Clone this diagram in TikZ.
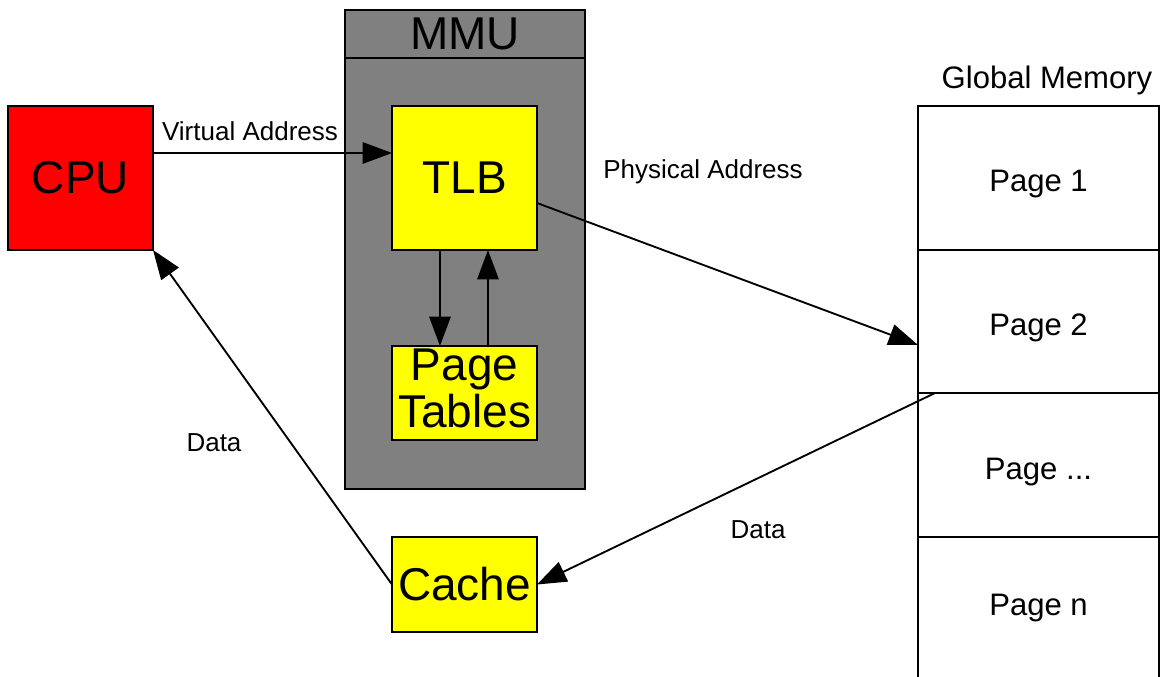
\documentclass[tikz,border=0pt]{standalone}
\usepackage{fontspec}
\setmainfont{Liberation Sans}
\usetikzlibrary{arrows.meta}

\definecolor{cpured}{HTML}{FF0000}
\definecolor{boxyellow}{HTML}{FFFF00}
\definecolor{mmugray}{HTML}{808080}

\tikzset{
  box/.style={draw=black, line width=1.1pt, inner sep=0pt, outer sep=0pt,
              minimum width=#1},
  bigtext/.style={font=\fontsize{34.5}{35.25}\selectfont},
  midtext/.style={font=\fontsize{23.3}{28}\selectfont,
                  text height=25.9pt, text depth=4.9pt},
  smalltext/.style={font=\fontsize{19.5}{23}\selectfont},
  cell/.style={draw=black, line width=1.1pt, inner sep=0pt, outer sep=0pt,
               minimum width=180.75pt, midtext},
  arr/.style={line width=1.4pt, -{Triangle[length=22pt,width=16pt]}},
  plain/.style={line width=1.1pt},
}

\begin{document}
\begin{tikzpicture}[x=0.75pt, y=-0.75pt]
\useasboundingbox (0,0) rectangle (1162,677);

% MMU enclosure with title bar
\node[box=180pt, fill=mmugray, minimum height=359.25pt] (mmu) at (465,249.5) {};
\draw[plain] (345,58) -- (585,58);
\node[bigtext] (mmutitle) at (465,34) {MMU};

% processor side
\node[box=108.75pt, fill=cpured, minimum height=108pt, bigtext] (cpu) at (80.5,178) {CPU};
\node[box=108.75pt, fill=boxyellow, minimum height=108pt, bigtext] (tlb) at (464.5,178) {TLB};
\node[box=108.75pt, fill=boxyellow, minimum height=70.5pt] (pt) at (464.5,393) {};
\node[bigtext, align=center, inner sep=0pt] (pttext) at (464.5,388) {Page\\Tables};
\node[box=108.75pt, fill=boxyellow, minimum height=71.25pt, bigtext] (cache) at (464.5,584.5) {Cache};

% global memory column
\node[font=\fontsize{23.3}{28}\selectfont] (gmlabel) at (1047,80) {Global Memory};
\node[cell, minimum height=108pt] (p1) at (1038.5,178) {Page 1};
\node[cell, minimum height=107.25pt] (p2) at (1038.5,321.5) {Page 2};
\node[cell, minimum height=108pt] (p3) at (1038.5,465) {Page ...};
\coordinate (p4nw) at (918,537);
\coordinate (p4ne) at (1159,537);
\coordinate (p4sw) at (918,680);
\coordinate (p4se) at (1159,680);
\draw[plain] (p4sw) -- (p4nw) -- (p4ne) -- (p4se);
\node[midtext] (p4) at (1038.5,601) {Page n};

% connectors
\draw[arr] ([yshift=18.75pt]cpu.east) -- ([yshift=18.75pt]tlb.west);
\node[smalltext] (va) at (250,131) {Virtual Address};
\draw[arr] ([yshift=-18.75pt]tlb.east) -- ([yshift=-17.6pt]p2.west);
\node[smalltext] (pa) at (703,172) {Physical Address};
\draw[arr] ([xshift=-18.4pt]tlb.south) -- ([xshift=-18.4pt]pt.north);
\draw[arr] ([xshift=17.6pt]pt.north) -- ([xshift=17.6pt]tlb.south);
\draw[arr] ([xshift=12.75pt]p3.north west) -- (cache.east);
\node[smalltext] (d1) at (758,530) {Data};
\draw[arr] (cache.west) -- (cpu.south east);
\node[smalltext] (d2) at (214,443) {Data};
\end{tikzpicture}
\end{document}
